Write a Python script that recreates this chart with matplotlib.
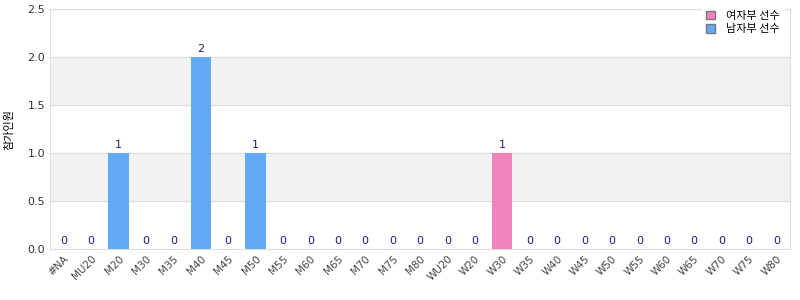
import matplotlib
matplotlib.use("Agg")
import matplotlib.pyplot as plt
import numpy as np
from matplotlib.patches import Patch

plt.rcParams['font.family'] = ['DejaVu Sans', 'Noto Sans CJK KR']

categories = ["#NA", "MU20", "M20", "M30", "M35", "M40", "M45", "M50", "M55", "M60",
              "M65", "M70", "M75", "M80", "WU20", "W20", "W30", "W35", "W40", "W45",
              "W50", "W55", "W60", "W65", "W70", "W75", "W80"]
women = [0, 0, 0, 0, 0, 0, 0, 0, 0, 0, 0, 0, 0, 0, 0, 0, 1, 0, 0, 0, 0, 0, 0, 0, 0, 0, 0]
men = [0, 0, 1, 0, 0, 2, 0, 1, 0, 0, 0, 0, 0, 0, 0, 0, 0, 0, 0, 0, 0, 0, 0, 0, 0, 0, 0]
series_names = ["여자부 선수", "남자부 선수"]
y_label = "참가인원"

fig = plt.figure(figsize=(8, 3), dpi=100)
ax = fig.add_axes([0.0625, 0.17, 0.925, 0.80])

x = np.arange(len(categories))
w = np.array(women); m = np.array(men)
pink = "#f184bd"; blue = "#62a9f6"
ax.bar(x, m, width=0.74, color=blue, zorder=3)
ax.bar(x, w, width=0.74, bottom=m, color=pink, zorder=3)
tot = w + m
for xi, t in zip(x, tot):
    ax.text(xi, t + 0.03, str(int(t)), ha='center', va='bottom', fontsize=8, color='#1a1a8c', zorder=4)

ax.set_ylim(0, 2.5)
ax.set_xlim(-0.5, len(categories) - 0.5)
ax.set_yticks(np.arange(0, 2.51, 0.5))
ax.set_yticklabels([f"{v:.1f}" for v in np.arange(0, 2.51, 0.5)], fontsize=8, color='#333333')
for lo in (0.5, 1.5):
    ax.axhspan(lo, lo + 0.5, color='#f2f2f2', zorder=0)
ax.grid(axis='y', color='#dddddd', linewidth=0.8, zorder=1)
ax.set_xticks(x)
ax.set_xticklabels(categories, rotation=45, ha='right', rotation_mode='anchor', fontsize=7.5, color='#444444')
ax.tick_params(length=0)
for s in ax.spines.values():
    s.set_color('#dddddd')
ax.set_ylabel(y_label, fontsize=8, family=['Noto Sans CJK KR', 'DejaVu Sans'])
ax.yaxis.set_label_coords(-0.048, 0.5)

handles = [Patch(facecolor=pink, edgecolor='#777777'), Patch(facecolor=blue, edgecolor='#777777')]
leg = ax.legend(handles, series_names, loc='upper right', bbox_to_anchor=(1.0, 1.035),
                frameon=True, handlelength=0.8, handleheight=0.8, labelspacing=0.3, handletextpad=1.0,
                prop={'family': ['Noto Sans CJK KR', 'DejaVu Sans'], 'size': 8})
leg.get_frame().set_facecolor('white')
leg.get_frame().set_edgecolor('white')
leg.get_frame().set_alpha(1)

fig.savefig("out.png", dpi=100)
